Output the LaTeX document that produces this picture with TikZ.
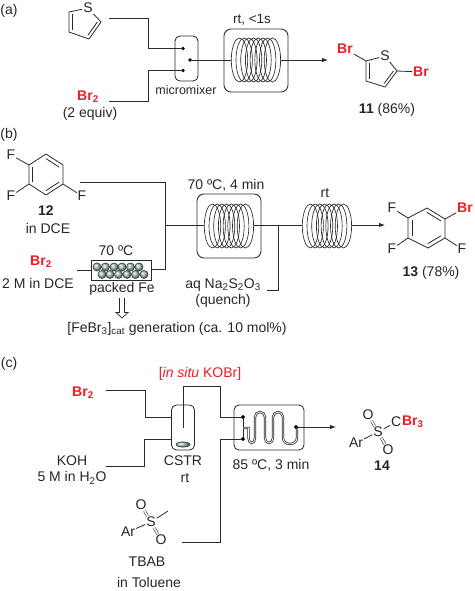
\documentclass[tikz,border=0pt]{standalone}
\usepackage{fontspec}
\setmainfont{Liberation Sans}
\usetikzlibrary{calc,arrows.meta}
\definecolor{brred}{HTML}{EE1C25}
\definecolor{ln}{HTML}{2A2A2A}
\definecolor{ballc}{HTML}{A8C6C4}
\tikzset{
 x=1pt,y=-1pt,
 txt/.style={font=\fontsize{14}{16}\selectfont,text=black!85,inner sep=1pt,outer sep=0pt},
 red/.style={txt,text=brred,font=\fontsize{14}{16}\selectfont\bfseries},
 rbox/.style={draw=ln,line width=.85pt,rounded corners=5pt,inner sep=0pt,outer sep=0pt},
 pipe/.style={draw=ln,line width=.9pt},
 flow/.style={pipe,-{Latex[length=6pt,width=4.5pt]}},
 bond/.style={draw=ln,line width=.8pt},
 dotn/.style={circle,fill=black,inner sep=0pt,minimum size=3.8pt},
 turn/.style={draw=ln,line width=.65pt},
}
\newcommand{\coil}[2]{% centre x, centre y
 \foreach \k in {0,...,7}{\draw[turn] ({#1-16.5+\k*4.7},#2) ellipse (8.2pt and 22pt);}
}
\newcommand{\ibond}[3]{\draw[bond] ($(#3)!.78!(#1)$) -- ($(#3)!.78!(#2)$);}
\newcommand{\fe}[2]{\shade[ball color=ballc] (#1,#2) circle (4.1pt);\draw[ln,line width=.45pt] (#1,#2) circle (4.1pt);}
\begin{document}
\begin{tikzpicture}
\useasboundingbox (0,0) rectangle (474,591);
%%%% (a)
\node[txt] (la) at (9,11) {(a)};
\node[txt] (Sa) at (88,8) {S};
\coordinate (a2) at (69,12); \coordinate (a3) at (69,32); \coordinate (a4) at (89,39); \coordinate (a5) at (101,22); \coordinate (ac) at (84,22);
\draw[bond] (Sa) -- (a2) -- (a3) -- (a4) -- (a5) -- (Sa);
\ibond{a2}{a3}{ac}\ibond{a4}{a5}{ac}
\node[txt,red] (bra) at (88,97) {Br\textsubscript{2}};
\node[txt] (eqa) at (90,114) {(2 equiv)};
\node[txt,font=\fontsize{12.5}{14}\selectfont] (mm) at (186,90) {micromixer};
\node[txt,font=\fontsize{13.5}{15}\selectfont] (rta) at (252,20) {rt, <1s};
\node[rbox,minimum width=23pt,minimum height=45pt] (mixer) at (186.5,58.5) {};
\node[rbox,minimum width=64pt,minimum height=63pt,rounded corners=7pt] (ra) at (256,60.5) {};
\coil{256}{60}
\node[dotn] (d1) at (183,48.5) {};
\node[dotn] (d2) at (183,70.5) {};
\node[dotn] (d3) at (190,60) {};
\coordinate (ta) at (109,18); \coordinate (ba) at (109,101);
\coordinate (ca) at (231,60); \coordinate (cb) at (281,60); \coordinate (pa) at (328,60);
\draw[pipe] (ta) -- (148,18) -- (148,48.5) -- (d1.center);
\draw[pipe] (ba) -- (148,101) -- (148,70.5) -- (d2.center);
\draw[pipe] (d3.center) -- (ca);
\draw[flow] (cb) -- (pa);
\node[txt,red] (br1) at (345,49) {Br};
\node[txt,red] (br2) at (421,72) {Br};
\node[txt] (Sb) at (385,56) {S};
\coordinate (b2) at (366,61); \coordinate (b3) at (366,81); \coordinate (b4) at (385,87); \coordinate (b5) at (397,71); \coordinate (bc) at (381,71);
\draw[bond] (Sb) -- (b2) -- (b3) -- (b4) -- (b5) -- (Sb);
\ibond{b2}{b3}{bc}\ibond{b4}{b5}{bc}
\draw[bond] (br1) -- (b2); \draw[bond] (b5) -- (br2);
\node[txt] (p11) at (387,110) {\textbf{11} (86\%)};
%%%% (b)
\node[txt] (lb) at (9,135) {(b)};
\coordinate (c1) at (29,165); \coordinate (c2) at (46,154); \coordinate (c3) at (63,165); \coordinate (c4) at (63,184); \coordinate (c5) at (46,195); \coordinate (c6) at (29,184); \coordinate (cc) at (46,175);
\draw[bond] (c1)--(c2)--(c3)--(c4)--(c5)--(c6)--cycle;
\ibond{c2}{c3}{cc}\ibond{c4}{c5}{cc}\ibond{c6}{c1}{cc}
\node[txt] (f1) at (11,155) {F};
\node[txt] (f2) at (11,196) {F};
\node[txt] (f3) at (82,196) {F};
\draw[bond] (f1)--(c1); \draw[bond] (f2)--(c6); \draw[bond] (f3)--(c4);
\node[txt] (n12) at (46,211) {\textbf{12}};
\node[txt] (dce) at (48,228) {in DCE};
\node[txt,red] (brb) at (41,262) {Br\textsubscript{2}};
\node[txt] (mdce) at (38,283) {2 M in DCE};
\node[txt] (t70) at (116,251) {70 ºC};
\node[txt] (pfe) at (122,289) {packed Fe};
\node[draw=ln,line width=.85pt,inner sep=0pt,minimum width=60pt,minimum height=19.5pt] (pk) at (121,270.5) {};
\foreach \x in {97,105.5,114,122,130.5,139}{\fe{\x}{267}}
\foreach \x in {102,110,118.5,127,135.5,144}{\fe{\x}{274.5}}
\coordinate (i1) at (80,182); \coordinate (i2) at (165,182); \coordinate (i3) at (165,269); \coordinate (jb) at (165,225);
\coordinate (i4) at (77,270);
\node[rbox,minimum width=64pt,minimum height=64pt,rounded corners=7pt] (rb) at (229,226) {};
\coil{229}{226}
\coil{327}{226}
\coordinate (e1) at (204,225); \coordinate (e2) at (254,225); \coordinate (e3) at (302,225); \coordinate (e4) at (352,225); \coordinate (e5) at (385,225);
\coordinate (q0) at (278,225); \coordinate (q1) at (267,290);
\draw[pipe] (i1) -- (i2) -- (i3) -- (pk.east |- i3);
\draw[pipe] (i4) -- (pk.west |- i4);
\draw[pipe] (jb) -- (e1);
\draw[pipe] (e2) -- (e3);
\draw[flow] (e4) -- (e5);
\draw[pipe] (q0) -- (278,290) -- (q1);
\node[txt] (t704) at (226,185) {70 ºC, 4 min};
\node[txt] (rtb) at (325,193) {rt};
\node[txt] (aq) at (223,285) {aq Na\textsubscript{2}S\textsubscript{2}O\textsubscript{3}};
\node[txt] (qu) at (223,301) {(quench)};
\coordinate (g1) at (408,218); \coordinate (g2) at (427,208); \coordinate (g3) at (445,219); \coordinate (g4) at (445,238); \coordinate (g5) at (428,248); \coordinate (g6) at (408,238); \coordinate (gc) at (427,228);
\draw[bond] (g1)--(g2)--(g3)--(g4)--(g5)--(g6)--cycle;
\ibond{g2}{g3}{gc}\ibond{g4}{g5}{gc}\ibond{g6}{g1}{gc}
\node[txt] (f4) at (392,208) {F};
\node[txt] (f5) at (392,249) {F};
\node[txt] (f6) at (462,249) {F};
\node[txt,red] (br3) at (465,208) {Br};
\draw[bond] (f4)--(g1); \draw[bond] (f5)--(g6); \draw[bond] (f6)--(g4); \draw[bond] (br3)--(g3);
\node[txt] (p13) at (431,273) {\textbf{13} (78\%)};
\draw[ln,line width=.7pt,fill=white] (119.5,298) -- (119.5,312.5) -- (116,312.5) -- (122,318) -- (128,312.5) -- (124.5,312.5) -- (124.5,298);
\node[txt] (fe) at (177,329) {[FeBr\textsubscript{3}]\textsubscript{cat} generation (ca. 10 mol\%)};
%%%% (c)
\node[txt] (lc) at (9,364) {(c)};
\node[txt,text=brred] (ko) at (200,374) {[\textit{in situ} KOBr]};
\node[txt,red] (brc) at (83,393) {Br\textsubscript{2}};
\node[txt] (koh) at (72,461) {KOH};
\node[txt] (kw) at (72,478) {5 M in H\textsubscript{2}O};
\node[txt] (cs) at (183,461) {CSTR};
\node[txt] (rtc) at (185,478) {rt};
\node[rbox,minimum width=23pt,minimum height=45pt] (cstr) at (183,427.5) {};
\shade[ball color=ballc] (183,444.5) ellipse (7pt and 2.6pt);
\draw[ln,line width=.5pt] (183,444.5) ellipse (7pt and 2.6pt);
\node[rbox,minimum width=70pt,minimum height=45pt] (rc) at (269,427.5) {};
\node[dotn] (d4) at (243,417) {};
\node[dotn] (d5) at (243,439) {};
\node[dotn] (d6) at (296,427) {};
\coordinate (u1) at (106,390.5); \coordinate (u2) at (106,466); \coordinate (u3) at (182,542);
\coordinate (tube) at (183,428); \coordinate (pc) at (336,427);
\draw[pipe] (u1) -- (145,390.5) -- (145,417) -- (cstr.west |- 0,417);
\draw[pipe] (u2) -- (144,466) -- (144,439) -- (cstr.west |- 0,439);
\draw[pipe] (tube) -- (183,386) -- (220,386) -- (220,417) -- (d4.center);
\draw[pipe] (u3) -- (220,542) -- (220,439) -- (d5.center);
\draw[pipe] (d4.center) -- (d5.center);
\draw[flow] (d6.center) -- (pc);
\foreach \w/\c in {2.3pt/ln,.8pt/white}{
\draw[line width=\w,color=\c] (243,428) -- (248.5,428) -- (248.5,438) arc (180:360:3.25pt and 5pt) -- (255,417) arc (180:0:5pt and 5pt) -- (265,438) arc (180:360:4pt and 5pt) -- (273,417) arc (180:0:5pt and 5pt) -- (283,438) arc (180:360:7pt and 6pt) -- (297,428);
}
\node[dotn] at (d6) {};
\node[dotn] at (d4) {};
\node[dotn] at (d5) {};
\node[txt] (t85) at (271,465) {85 ºC, 3 min};
% product 14
\node[txt] (s14) at (378,432) {S};
\node[txt] (o1) at (368,415) {O};
\node[txt] (o2) at (388,450) {O};
\node[txt] (ar14) at (356,443) {Ar};
\node[txt,anchor=west,inner sep=1pt] (c14) at (390,422) {C};
\node[txt,red,anchor=west,inner sep=0pt] (br14) at (402,422) {Br\textsubscript{3}};
\draw[bond] (ar14) -- (s14); \draw[bond] (s14) -- (c14);
\draw[bond,double,double distance=1.6pt,line width=.6pt] (s14) -- (o1);
\draw[bond,double,double distance=1.6pt,line width=.6pt] (s14) -- (o2);
\node[txt] (n14) at (382,466) {\textbf{14}};
% reagent
\node[txt] (s2) at (151,522) {S};
\node[txt] (o3) at (141,505) {O};
\node[txt] (o4) at (161,540) {O};
\node[txt] (ar2) at (128,532) {Ar};
\coordinate (me) at (168,511);
\draw[bond] (ar2) -- (s2); \draw[bond] (s2) -- (me);
\draw[bond,double,double distance=1.6pt,line width=.6pt] (s2) -- (o3);
\draw[bond,double,double distance=1.6pt,line width=.6pt] (s2) -- (o4);
\node[txt] (tb) at (147,562) {TBAB};
\node[txt] (tol) at (149,582.5) {in Toluene};
\end{tikzpicture}
\end{document}
